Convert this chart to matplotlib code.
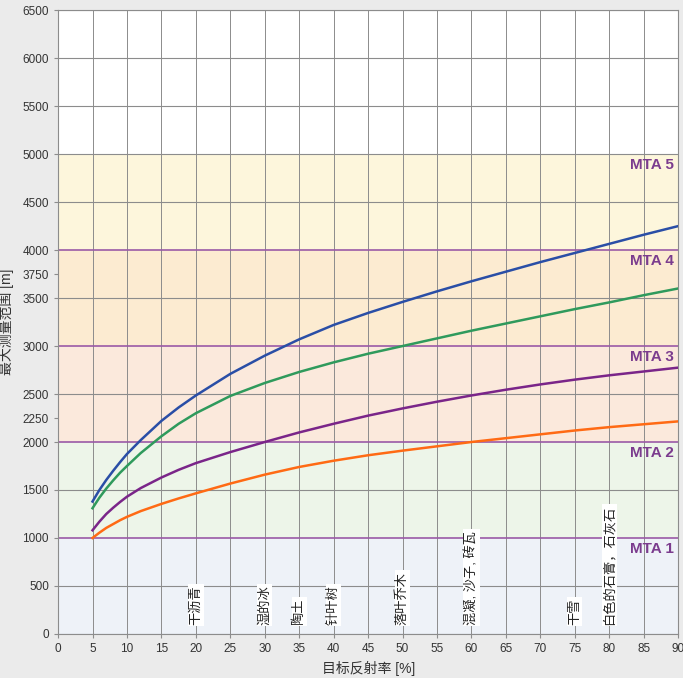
import matplotlib
matplotlib.use("Agg")
import matplotlib.pyplot as plt

plt.rcParams['font.family'] = ['Liberation Sans', 'Noto Sans CJK SC', 'DejaVu Sans']

# reflectivity [%] and max range [m]
refl = [5, 6, 7, 8, 9, 10, 12, 15, 17.5, 20, 25, 30, 35, 40, 45, 50,
        55, 60, 65, 70, 75, 80, 85, 90]
blue = [1380, 1500, 1605, 1700, 1790, 1875, 2020, 2220, 2360, 2485, 2710, 2900,
        3070, 3220, 3345, 3460, 3570, 3675, 3775, 3875, 3970, 4065, 4160, 4250]
green = [1310, 1420, 1515, 1600, 1680, 1750, 1885, 2060, 2190, 2300, 2480, 2615,
         2730, 2830, 2920, 3000, 3080, 3160, 3235, 3310, 3385, 3455, 3530, 3600]
purple = [1080, 1170, 1250, 1315, 1375, 1430, 1520, 1630, 1710, 1780, 1895, 2000,
          2100, 2190, 2275, 2350, 2420, 2485, 2545, 2600, 2650, 2695, 2735, 2775]
orange = [1000, 1055, 1105, 1145, 1185, 1220, 1280, 1355, 1412, 1465, 1567, 1660,
          1740, 1805, 1862, 1910, 1955, 2000, 2040, 2080, 2120, 2155, 2185, 2215]

# MTA zones
mta_names = ['MTA 1', 'MTA 2', 'MTA 3', 'MTA 4', 'MTA 5']
mta_top = [1000, 2000, 3000, 4000, 5000]
band_colors = ['#eef2f8', '#edf5e9', '#fbe9dc', '#fcebd1', '#fdf6dc']

# materials
mat_x = [20, 30, 35, 40, 50, 60, 75, 80]
mat_names = ['干沥青', '湿的冰', '陶土', '针叶树', '落叶乔木',
             '混凝, 沙子, 砖瓦', '干雪', '白色的石膏，石灰石']

yticks = [0, 500, 1000, 1500, 2000, 2250, 2500, 3000, 3500, 3750, 4000,
          4500, 5000, 5500, 6000, 6500]

fig = plt.figure(figsize=(6.83, 6.78), dpi=100, facecolor='#ebebeb')
ax = fig.add_axes([0.085, 0.065, 0.908, 0.92])
ax.set_facecolor('white')

lo = 0
for top, c in zip(mta_top, band_colors):
    ax.axhspan(lo, top, color=c, zorder=0, lw=0)
    lo = top

# grid
for v in range(0, 6501, 500):
    if v in (1000, 2000, 3000, 4000):
        continue
    ax.axhline(v, color='#8c8c8c', lw=0.8, zorder=1)
for xv in range(0, 91, 5):
    ax.axvline(xv, color='#8c8c8c', lw=0.7, zorder=1)
for v in (1000, 2000, 3000, 4000):
    ax.axhline(v, color='#9a5aa6', lw=1.2, zorder=2)

ax.plot(refl, orange, color='#ff6a14', lw=1.8, zorder=4)
ax.plot(refl, purple, color='#7a2589', lw=1.8, zorder=4)
ax.plot(refl, green, color='#2f9a5c', lw=1.8, zorder=4)
ax.plot(refl, blue, color='#2a4ea6', lw=1.8, zorder=4)

for name, top in zip(mta_names, mta_top):
    ax.text(89.3, top - 110, name, ha='right', va='center', fontsize=11,
            fontweight='bold', color='#7b3c8e', zorder=5)

for xv, name in zip(mat_x, mat_names):
    ax.text(xv, 95, name, rotation=90, ha='center', va='bottom', fontsize=9.5,
            color='#222222', zorder=5,
            bbox=dict(facecolor='white', edgecolor='none', pad=1.0))

ax.set_xlim(0, 90)
ax.set_ylim(0, 6500)
ax.set_xticks(range(0, 91, 5))
ax.set_yticks(yticks)
ax.tick_params(labelsize=8.5, colors='#333333', length=3, color='#8c8c8c')
for s in ax.spines.values():
    s.set_color('#8c8c8c')
    s.set_linewidth(0.8)

ax.set_xlabel('目标反射率 [%]', fontsize=10, color='#333333', labelpad=4)
ax.set_ylabel('最大测量范围 [m]', fontsize=10, color='#333333', labelpad=6)

fig.savefig('out.png', dpi=100, facecolor=fig.get_facecolor())
